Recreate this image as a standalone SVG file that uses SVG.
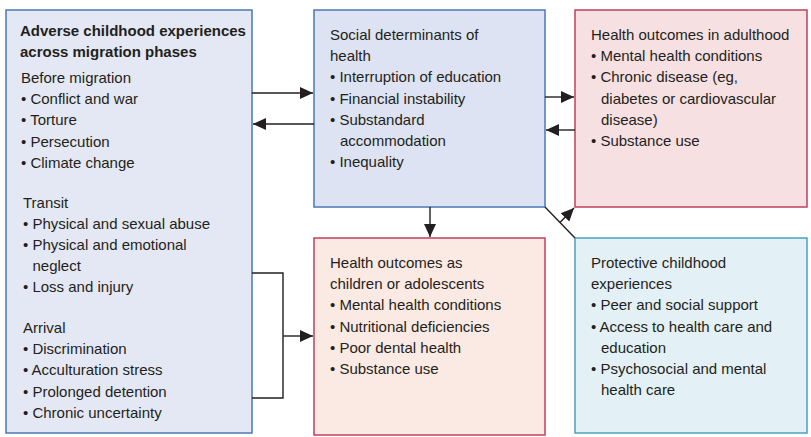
<svg xmlns="http://www.w3.org/2000/svg" width="811" height="437" viewBox="0 0 811 437">
<defs>
<style>
text{font-family:"Liberation Sans",Arial,sans-serif;font-size:15px;fill:#231f20}
.b{font-weight:bold}
.box{stroke-width:1.5}
.blue{fill:#e4e8f4;stroke:#4a78b4}
.blue2{fill:#dde3f2;stroke:#4a78b4}
.pink{fill:#f6e0e2;stroke:#c0405f}
.peach{fill:#fbe9e4;stroke:#c0405f}
.teal{fill:#e3f0f5;stroke:#4aa3bf}
.ln{stroke:#231f20;stroke-width:1.4;fill:none}
</style>
<marker id="ah" markerUnits="userSpaceOnUse" markerWidth="14" markerHeight="14" viewBox="0 0 14 14" refX="13" refY="7" orient="auto">
<path d="M0,1 L13,7 L0,13 Z" fill="#231f20"/>
</marker>
</defs>
<rect width="811" height="437" fill="#ffffff"/>

<g id="adverse">
<rect class="box blue" x="6" y="10" width="246" height="423"/>
<text class="b" x="20" y="36">Adverse childhood experiences</text>
<text class="b" x="20" y="57">across migration phases</text>
<text x="21" y="83">Before migration</text>
<text x="21" y="104.2">• Conflict and war</text>
<text x="21" y="125.4">• Torture</text>
<text x="21" y="146.6">• Persecution</text>
<text x="21" y="167.8">• Climate change</text>
<text x="23" y="207.5">Transit</text>
<text x="23" y="228.7">• Physical and sexual abuse</text>
<text x="23" y="249.9">• Physical and emotional</text>
<text x="32.5" y="271.1">neglect</text>
<text x="23" y="292.3">• Loss and injury</text>
<text x="23" y="333">Arrival</text>
<text x="23" y="354.2">• Discrimination</text>
<text x="23" y="375.4">• Acculturation stress</text>
<text x="23" y="396.6">• Prolonged detention</text>
<text x="23" y="417.8">• Chronic uncertainty</text>
</g>

<g id="social">
<rect class="box blue2" x="314" y="10" width="231" height="197"/>
<text x="330" y="40">Social determinants of</text>
<text x="330" y="61.2">health</text>
<text x="330" y="82.4">• Interruption of education</text>
<text x="330" y="103.6">• Financial instability</text>
<text x="330" y="124.8">• Substandard</text>
<text x="340" y="146">accommodation</text>
<text x="330" y="167.2">• Inequality</text>
</g>

<g id="adulthood">
<rect class="box pink" x="575" y="10" width="232" height="197"/>
<text x="591" y="40">Health outcomes in adulthood</text>
<text x="591" y="61.2">• Mental health conditions</text>
<text x="591" y="82.4">• Chronic disease (eg,</text>
<text x="601" y="103.6">diabetes or cardiovascular</text>
<text x="601" y="124.8">disease)</text>
<text x="591" y="146">• Substance use</text>
</g>

<g id="children">
<rect class="box peach" x="314" y="238" width="231" height="197"/>
<text x="330" y="268">Health outcomes as</text>
<text x="330" y="289.2">children or adolescents</text>
<text x="330" y="310.4">• Mental health conditions</text>
<text x="330" y="331.6">• Nutritional deficiencies</text>
<text x="330" y="352.8">• Poor dental health</text>
<text x="330" y="374">• Substance use</text>
</g>

<g id="protective">
<rect class="box teal" x="575" y="238" width="232" height="195"/>
<text x="591" y="268">Protective childhood</text>
<text x="591" y="289.2">experiences</text>
<text x="591" y="310.4">• Peer and social support</text>
<text x="591" y="331.6">• Access to health care and</text>
<text x="601" y="352.8">education</text>
<text x="591" y="374">• Psychosocial and mental</text>
<text x="601" y="395.2">health care</text>
</g>

<g id="connectors">
<line class="ln" x1="252" y1="93" x2="313" y2="93" marker-end="url(#ah)"/>
<line class="ln" x1="314" y1="124" x2="253" y2="124" marker-end="url(#ah)"/>
<line class="ln" x1="545" y1="97" x2="574" y2="97" marker-end="url(#ah)"/>
<line class="ln" x1="575" y1="130" x2="546" y2="130" marker-end="url(#ah)"/>
<line class="ln" x1="430" y1="207" x2="430" y2="237" marker-end="url(#ah)"/>
<line class="ln" x1="545" y1="207" x2="575" y2="238"/>
<line class="ln" x1="560" y1="222.5" x2="574" y2="208" marker-end="url(#ah)"/>
<polyline class="ln" points="252,273 283,273 283,398 252,398"/>
<line class="ln" x1="283" y1="336" x2="313" y2="336" marker-end="url(#ah)"/>
</g>
</svg>
